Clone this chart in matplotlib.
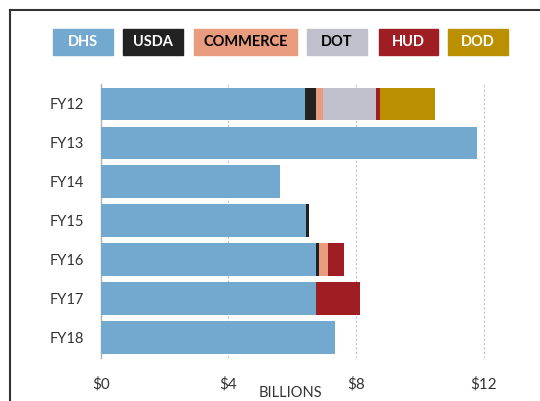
import matplotlib.pyplot as plt
import numpy as np
from matplotlib.lines import Line2D

plt.rcParams['font.family'] = ['Lato', 'DejaVu Sans']

years = ['FY12', 'FY13', 'FY14', 'FY15', 'FY16', 'FY17', 'FY18']
agencies = ['DHS', 'USDA', 'COMMERCE', 'DOT', 'HUD', 'DOD']
colors = ['#74A9CF', '#222222', '#E99B7E', '#C1C1CD', '#9E1E24', '#BB9000']
text_colors = ['white', 'white', 'black', 'black', 'white', 'white']

# billions of dollars per agency, FY12..FY18
dhs = [6.40, 11.79, 5.62, 6.43, 6.73, 6.73, 7.35]
usda = [0.36, 0, 0, 0.09, 0.10, 0, 0]
commerce = [0.20, 0, 0, 0, 0.30, 0, 0]
dot = [1.67, 0, 0, 0, 0, 0, 0]
hud = [0.11, 0, 0, 0, 0.50, 1.40, 0]
dod = [1.73, 0, 0, 0, 0, 0, 0]
series = [dhs, usda, commerce, dot, hud, dod]

xticks = [0, 4, 8, 12]
xtick_labels = ['$0', '$4', '$8', '$12']

fig = plt.figure(figsize=(5.4, 4.01), dpi=100)
ax = fig.add_axes([0.1865, 0.1072, 0.798, 0.6833])

y = np.arange(len(years))
left = np.zeros(len(years))
for vals, c in zip(series, colors):
    vals = np.array(vals)
    ax.barh(y, vals, left=left, height=0.835, color=c, zorder=3)
    left += vals

ax.set_ylim(6.53, -0.51)
ax.set_xlim(0, 13.5)
ax.set_yticks(y)
ax.set_yticklabels(years, fontsize=10.5, color='#333333')
ax.set_xticks(xticks)
ax.set_xticklabels(xtick_labels, fontsize=11, color='#333333')
ax.tick_params(axis='y', length=0, pad=12)
ax.tick_params(axis='x', length=0, pad=14)
for s in ['top', 'right', 'bottom']:
    ax.spines[s].set_visible(False)
ax.spines['left'].set_color('#b0b0b0')
ax.spines['left'].set_linewidth(1)
ax.grid(axis='x', color='#c0c0c0', linestyle=(0, (2, 2)), linewidth=0.8, zorder=0)
ax.set_axisbelow(True)

fig.text(290 / 540, 1 - 400 / 401, 'BILLIONS', ha='center', va='bottom',
         fontsize=10.5, color='#333333')

# legend boxes with the labels inside
boxes = [(53, 113), (123, 183), (194, 297), (307, 367), (379, 438), (448, 508)]
for (x0, x1), name, c, tc in zip(boxes, agencies, colors, text_colors):
    fig.patches.append(plt.Rectangle((x0 / 540, 1 - 55 / 401), (x1 - x0) / 540, 26 / 401,
                                     transform=fig.transFigure, color=c))
    fig.text((x0 + x1) / 2 / 540, 1 - 42 / 401, name, ha='center', va='center',
             fontsize=10.5, fontweight='bold', color=tc)

# outer frame (top and left edge)
fig.add_artist(Line2D([10 / 540, 1], [1 - 10 / 401] * 2, color='#333333', lw=1.5))
fig.add_artist(Line2D([10 / 540] * 2, [0, 1 - 10 / 401], color='#333333', lw=1.5))

plt.savefig('out.png', dpi=100)
